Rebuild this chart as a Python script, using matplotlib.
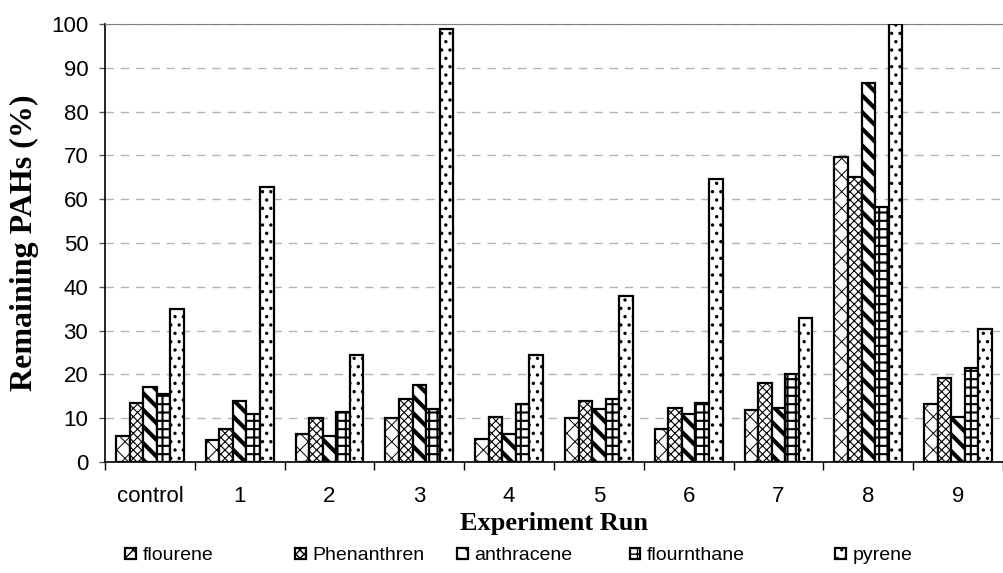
import numpy as np
import matplotlib
matplotlib.use("Agg")
import matplotlib.pyplot as plt

# data
runs = ["control", "1", "2", "3", "4", "5", "6", "7", "8", "9"]
flourene = [6.0, 5.0, 6.5, 10.0, 5.3, 10.0, 7.5, 11.9, 69.7, 13.2]
phenanthren = [13.5, 7.5, 10.0, 14.3, 10.2, 14.0, 12.3, 18.0, 65.0, 19.2]
anthracene = [17.2, 14.0, 6.0, 17.5, 6.5, 12.0, 11.0, 12.3, 86.5, 10.3]
flournthane = [15.5, 11.0, 11.5, 12.2, 13.2, 14.3, 13.5, 20.1, 58.2, 21.4]
pyrene = [35.0, 62.8, 24.5, 98.8, 24.5, 38.0, 64.6, 32.8, 100.0, 30.3]

series = [
    ("flourene", flourene, "xx", "black", 0.7),
    ("Phenanthren", phenanthren, "xxxx", "#555555", 0.8),
    ("anthracene", anthracene, "\\\\", "black", 3.0),
    ("flournthane", flournthane, "++", "black", 1.5),
    ("pyrene", pyrene, "..", "black", 1.2),
]
legend_x = [0.125, 0.294, 0.455, 0.627, 0.832]

fig = plt.figure(figsize=(10.04, 5.73), dpi=100)
ax = fig.add_axes([0.1046, 0.1937, 0.8944, 0.7644])

x = np.arange(len(runs))
w = 0.151
handles = []
for k, (name, vals, hatch, hcol, hlw) in enumerate(series):
    with plt.rc_context({"hatch.linewidth": hlw, "hatch.color": hcol}):
        bars = ax.bar(x + (k - 2) * w, vals, w, color="white", edgecolor="black",
                      linewidth=1.6, hatch=hatch, label=name, zorder=3)
        for b in bars:
            if hasattr(b, "set_hatch_linewidth"):
                b.set_hatch_linewidth(hlw)
    handles.append(bars)

ax.set_xlim(-0.5, len(runs) - 0.5)
ax.set_ylim(0, 100)
ax.set_yticks(np.arange(0, 101, 10))
ax.yaxis.grid(True, color="#b4b4b4", linestyle=(0, (6, 5)), linewidth=1.0, zorder=0)
ax.set_axisbelow(True)

ax.set_xticks(x)
ax.set_xticklabels(runs)
ax.set_xticks(np.arange(-0.5, len(runs)), minor=True)
ax.tick_params(axis="x", which="major", length=0, pad=17, labelsize=16)
ax.tick_params(axis="x", which="minor", length=6, width=1.0, color="black")
ax.tick_params(axis="y", length=4, width=1.0, pad=8, labelsize=16, color="#555555")
for lab in ax.get_xticklabels() + ax.get_yticklabels():
    lab.set_fontfamily("Liberation Sans")

ax.spines["left"].set_color("black")
ax.spines["bottom"].set_color("black")
ax.spines["left"].set_linewidth(1.2)
ax.spines["bottom"].set_linewidth(1.2)
ax.spines["top"].set_color("#808080")
ax.spines["right"].set_color("#808080")

ax.set_ylabel("Remaining PAHs (%)", fontfamily="Liberation Serif", fontweight="bold",
              fontsize=23, labelpad=9)
ax.set_xlabel("Experiment Run", fontfamily="Liberation Serif", fontweight="bold",
              fontsize=19, labelpad=4)

for h, (name, *_), lx in zip(handles, series, legend_x):
    fig.legend(handles=[h], labels=[name], loc="center left",
               bbox_to_anchor=(lx, 0.03), frameon=False, borderpad=0,
               borderaxespad=0, handlelength=0.55, handleheight=0.55,
               handletextpad=0.35, prop={"family": "Liberation Sans", "size": 14})

fig.savefig("out.png", dpi=100)
